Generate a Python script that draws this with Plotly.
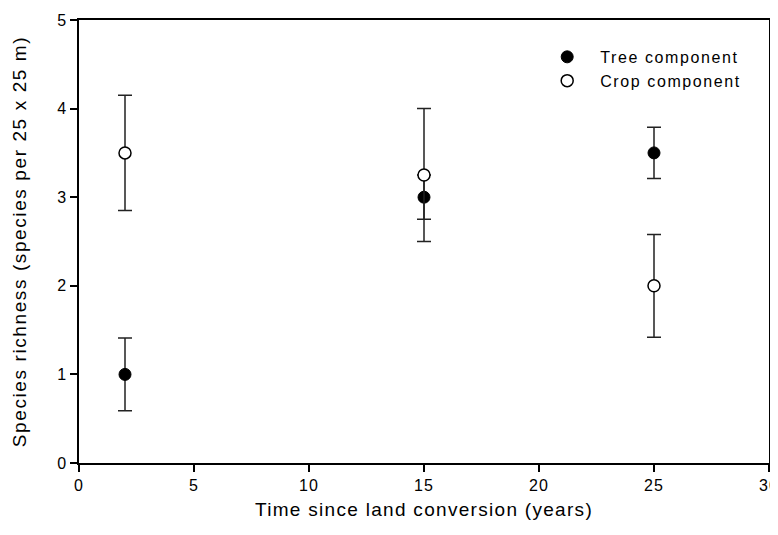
import plotly.graph_objects as go

years = [2, 15, 25]
tree_mean = [1.0, 3.0, 3.5]
tree_err = [0.41, 0.25, 0.29]
crop_mean = [3.5, 3.25, 2.0]
crop_err = [0.65, 0.75, 0.58]
x_ticks = [0, 5, 10, 15, 20, 25, 30]
y_ticks = [0, 1, 2, 3, 4, 5]

font = "Liberation Sans, Arial, sans-serif"

def sp(t, ls):
    return '<span style="letter-spacing:%spx">%s</span>' % (ls, t)

fig = go.Figure()
fig.add_trace(go.Scatter(
    x=years, y=tree_mean, mode="markers", name=sp("Tree component", 1.6),
    marker=dict(symbol="circle", size=12, color="black", line=dict(color="black", width=1)),
    error_y=dict(type="data", array=tree_err, visible=True, color="#222222", thickness=1.5, width=7),
))
fig.add_trace(go.Scatter(
    x=years, y=crop_mean, mode="markers", name=sp("Crop component", 1.6),
    marker=dict(symbol="circle", size=12, color="white", line=dict(color="black", width=1.5)),
    error_y=dict(type="data", array=crop_err, visible=True, color="#222222", thickness=1.5, width=7),
))

fig.update_layout(
    width=778, height=527,
    margin=dict(l=71, r=17, t=12, b=72, autoexpand=False),
    paper_bgcolor="white", plot_bgcolor="white",
    font=dict(family=font, size=16, color="black"),
    showlegend=True,
    legend=dict(x=0.6597, y=0.955, xanchor="left", yanchor="top",
                bgcolor="rgba(0,0,0,0)", font=dict(size=16),
                itemwidth=56, tracegroupgap=0),
    xaxis=dict(range=[0, 30], tickvals=x_ticks, ticktext=[sp(str(v), 1) for v in x_ticks],
               showgrid=False, zeroline=False, showline=True, linecolor="black",
               linewidth=1.5, mirror=True, ticks="outside", ticklen=7, tickwidth=1.5,
               tickcolor="black", tickfont=dict(size=16), automargin=False,
               title=dict(text=sp("Time since land conversion (years)", 1.3), font=dict(size=19), standoff=10)),
    yaxis=dict(range=[0, 5], tickvals=y_ticks, ticktext=[sp(str(v), 1) for v in y_ticks],
               showgrid=False, zeroline=False, showline=True, linecolor="black",
               linewidth=1.5, mirror=True, ticks="outside", ticklen=7, tickwidth=1.5,
               tickcolor="black", tickfont=dict(size=16), automargin=False,
               title=dict(text=sp("Species richness (species per 25 x 25 m)", 1.6), font=dict(size=19), standoff=25)),
)

fig.write_html("out.html")
